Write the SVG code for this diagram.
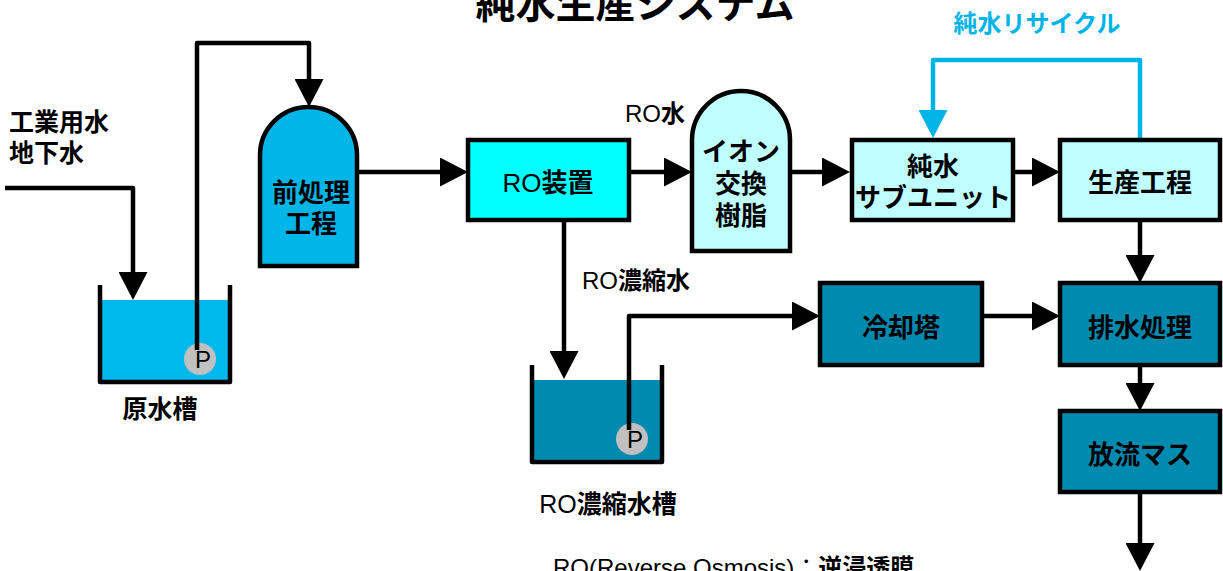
<svg xmlns="http://www.w3.org/2000/svg" width="1223" height="571" viewBox="0 0 1223 571">
<style>
text{font-family:"Liberation Sans","Noto Sans CJK JP",sans-serif;font-weight:bold;fill:#000}
.c{text-anchor:middle}
.n{font-size:26px}
.lat{font-weight:normal}
.box{stroke:#000;stroke-width:4.5}
.pipe{fill:none;stroke:#000;stroke-width:4.5;stroke-linejoin:round}
.rec{fill:none;stroke:#00B4E8;stroke-width:4.5;stroke-linejoin:round}
.wall{fill:none;stroke:#000;stroke-width:4.5;stroke-linejoin:round}
.pump{fill:#C0C0C0}
</style>
<defs>
<marker id="ah" markerUnits="userSpaceOnUse" viewBox="0 0 28 29" markerWidth="28" markerHeight="29" refX="10" refY="14.5" orient="auto">
<path d="M0,0 L28,14.5 L0,29 Z" fill="#000"/>
</marker>
<marker id="ahc" markerUnits="userSpaceOnUse" viewBox="0 0 28 29" markerWidth="28" markerHeight="29" refX="10" refY="14.5" orient="auto">
<path d="M0,0 L28,14.5 L0,29 Z" fill="#00B4E8"/>
</marker>
</defs>
<rect width="1223" height="571" fill="#fff"/>
<text id="title" x="635" y="18" class="c" font-size="40">純水生産システム</text>
<g id="raw-tank">
<rect x="102" y="300" width="126" height="80" fill="#00B9EC"/>
<path class="wall" d="M100,285 V382 H230 V285"/>
<circle class="pump" cx="200" cy="359" r="16"/>
<text x="160" y="418" class="c" font-size="25">原水槽</text>
</g>
<g id="ro-tank">
<rect x="534" y="380" width="126" height="80" fill="#008AB0"/>
<path class="wall" d="M532,365 V462 H662 V365"/>
<circle class="pump" cx="632" cy="439" r="16"/>
<text x="608" y="513" class="c" font-size="25"><tspan class="lat">RO</tspan>濃縮水槽</text>
</g>
<g id="connectors">
<path class="pipe" d="M5,188 H133 V282" marker-end="url(#ah)"/>
<path class="pipe" d="M197,350 V43 H309 V89" marker-end="url(#ah)"/>
<path class="pipe" d="M357,172 H450" marker-end="url(#ah)"/>
<path class="pipe" d="M630,172 H674" marker-end="url(#ah)"/>
<path class="pipe" d="M790,172 H832" marker-end="url(#ah)"/>
<path class="pipe" d="M1013,172 H1042" marker-end="url(#ah)"/>
<path class="rec" d="M1140,140 V60 H933 V120" marker-end="url(#ahc)"/>
<path class="pipe" d="M1140,220 V265" marker-end="url(#ah)"/>
<path class="pipe" d="M982,316 H1042" marker-end="url(#ah)"/>
<path class="pipe" d="M1140,365 V393" marker-end="url(#ah)"/>
<path class="pipe" d="M1140,492 V553" marker-end="url(#ah)"/>
<path class="pipe" d="M564,220 V361" marker-end="url(#ah)"/>
<path class="pipe" d="M629,430 V316 H802" marker-end="url(#ah)"/>
</g>
<g id="pump-labels">
<text x="203" y="368" class="c lat" font-size="24">P</text>
<text x="635" y="448" class="c lat" font-size="24">P</text>
</g>
<g id="labels">
<text x="9" y="131" font-size="25">工業用水</text>
<text x="9" y="162" font-size="25">地下水</text>
<text x="625" y="122" font-size="24"><tspan class="lat">RO</tspan>水</text>
<text x="582" y="289" font-size="24"><tspan class="lat">RO</tspan>濃縮水</text>
<text x="1037" y="32" class="c" font-size="24" style="fill:#00B4E8">純水リサイクル</text>
<text x="553" y="576" font-size="24"><tspan class="lat">RO(Reverse Osmosis)：</tspan>逆浸透膜</text>
</g>
<g id="pretreatment">
<path class="box" fill="#00B5E8" d="M260,266 V155 A48.5,48 0 0 1 357,155 V266 Z"/>
<text x="311" y="202" class="c n">前処理</text>
<text x="311" y="233" class="c n">工程</text>
</g>
<g id="ro-unit">
<rect class="box" x="468" y="140" width="161" height="80" fill="#00FFFF"/>
<text x="548" y="192" class="c n"><tspan class="lat">RO</tspan>装置</text>
</g>
<g id="ion-exchange">
<path class="box" fill="#C0FFFF" d="M692,251 V140 A49,49 0 0 1 790,140 V251 Z"/>
<text x="741" y="161" class="c n">イオン</text>
<text x="741" y="193" class="c n">交換</text>
<text x="741" y="225" class="c n">樹脂</text>
</g>
<g id="subunit">
<rect class="box" x="852" y="140" width="161" height="80" fill="#C0FFFF"/>
<text x="933" y="176" class="c n">純水</text>
<text x="933" y="207" class="c n">サブユニット</text>
</g>
<g id="production">
<rect class="box" x="1060" y="140" width="160" height="80" fill="#C0FFFF"/>
<text x="1140" y="192" class="c n">生産工程</text>
</g>
<g id="cooling-tower">
<rect class="box" x="820" y="283" width="162" height="82" fill="#008AB0"/>
<text x="901" y="337" class="c n">冷却塔</text>
</g>
<g id="wastewater">
<rect class="box" x="1060" y="283" width="160" height="82" fill="#008AB0"/>
<text x="1140" y="337" class="c n">排水処理</text>
</g>
<g id="discharge">
<rect class="box" x="1060" y="411" width="160" height="81" fill="#008AB0"/>
<text x="1140" y="464" class="c n">放流マス</text>
</g>
</svg>
